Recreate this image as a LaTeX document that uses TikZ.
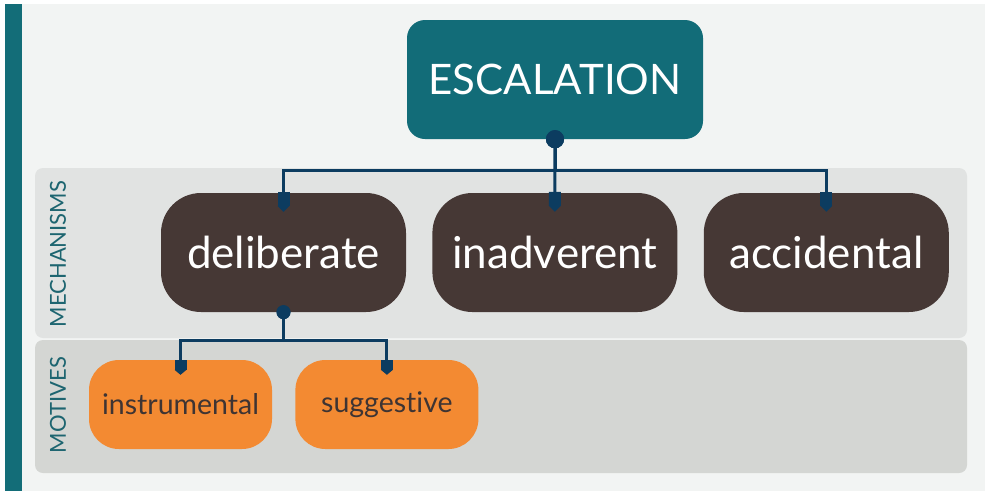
\documentclass[tikz,border=0pt]{standalone}
\usepackage{fontspec}
\setmainfont{Lato}[Ligatures={NoCommon,NoRare}]
\usetikzlibrary{positioning}
\usetikzlibrary{arrows.meta}

\definecolor{pagegray}{HTML}{F2F4F3}
\definecolor{barteal}{HTML}{136D78}
\definecolor{mechgray}{HTML}{E1E3E2}
\definecolor{motgray}{HTML}{D4D6D3}
\definecolor{escteal}{HTML}{126C78}
\definecolor{mechbrown}{HTML}{463835}
\definecolor{motorange}{HTML}{F38A32}
\definecolor{linkblue}{HTML}{0C3C60}
\definecolor{labelteal}{HTML}{1D6570}
\definecolor{motivetext}{HTML}{3E3433}

\begin{document}
\begin{tikzpicture}[x=1pt,y=-1pt,
    band/.style={rounded corners=8pt},
    bandlabel/.style={rotate=90,text=labelteal,font=\fontsize{22}{22}\selectfont},
    topbox/.style={fill=escteal,rounded corners=18pt,text=white,
      minimum width=296pt,minimum height=119pt,font=\fontsize{42}{42}\selectfont},
    mechbox/.style={fill=mechbrown,rounded corners=40pt,text=white,
      minimum width=245pt,minimum height=119pt,font=\fontsize{44}{44}\selectfont},
    motbox/.style={fill=motorange,rounded corners=30pt,text=motivetext,
      minimum width=183pt,minimum height=89pt,font=\fontsize{28.5}{28.5}\selectfont},
    link/.style={draw=linkblue,line width=3pt,
      {Circle[length=18pt,line width=0pt]}-{Rectangle[length=14pt,width=12pt,line width=0pt,sep=0pt]Triangle[length=6pt,width=12pt,line width=0pt]},
      shorten <=-9pt,shorten >=-19pt},
    sublink/.style={link,
      {Circle[length=14pt,line width=0pt]}-{Rectangle[length=10pt,width=12pt,line width=0pt,sep=0pt]Triangle[length=5pt,width=12pt,line width=0pt]},
      shorten <=-7pt,shorten >=-15pt}
  ]
  \useasboundingbox (0,0) rectangle (985,491);
  \fill[white] (0,0) rectangle (985,491);
  \fill[pagegray] (5,4) rectangle (985,491);
  \fill[barteal] (5,4) rectangle (22,491);

  % bands
  \fill[mechgray,band] (35,168) rectangle (967,338);
  \fill[motgray,band] (35,340) rectangle (967,473);
  \node[bandlabel] (mechlabel) at (58,254) {MECHANISMS};
  \node[bandlabel] (motlabel) at (58,405) {MOTIVES};

  % boxes
  \node[topbox] (esc) at (555,79.5) {ESCALATION};
  \node[mechbox] (delib) at (283.5,252.5) {deliberate};
  \node[mechbox,right=26pt of delib] (inadv) {inadverent};
  \node[mechbox,right=26pt of inadv] (accid) {accidental};
  \node[motbox] (instr) at (180.5,404.5) {instrumental};
  \node[motbox,right=23pt of instr] (sugg) {suggestive};

  % connectors
  \draw[link] (esc.south) -- ++(0,31) -| (delib.north);
  \draw[link] (esc.south) -- (inadv.north);
  \draw[link] (esc.south) -- ++(0,31) -| (accid.north);
  \draw[sublink] (delib.south) -- ++(0,28) -| (instr.north);
  \draw[sublink] (delib.south) -- ++(0,28) -| (sugg.north);
\end{tikzpicture}
\end{document}
